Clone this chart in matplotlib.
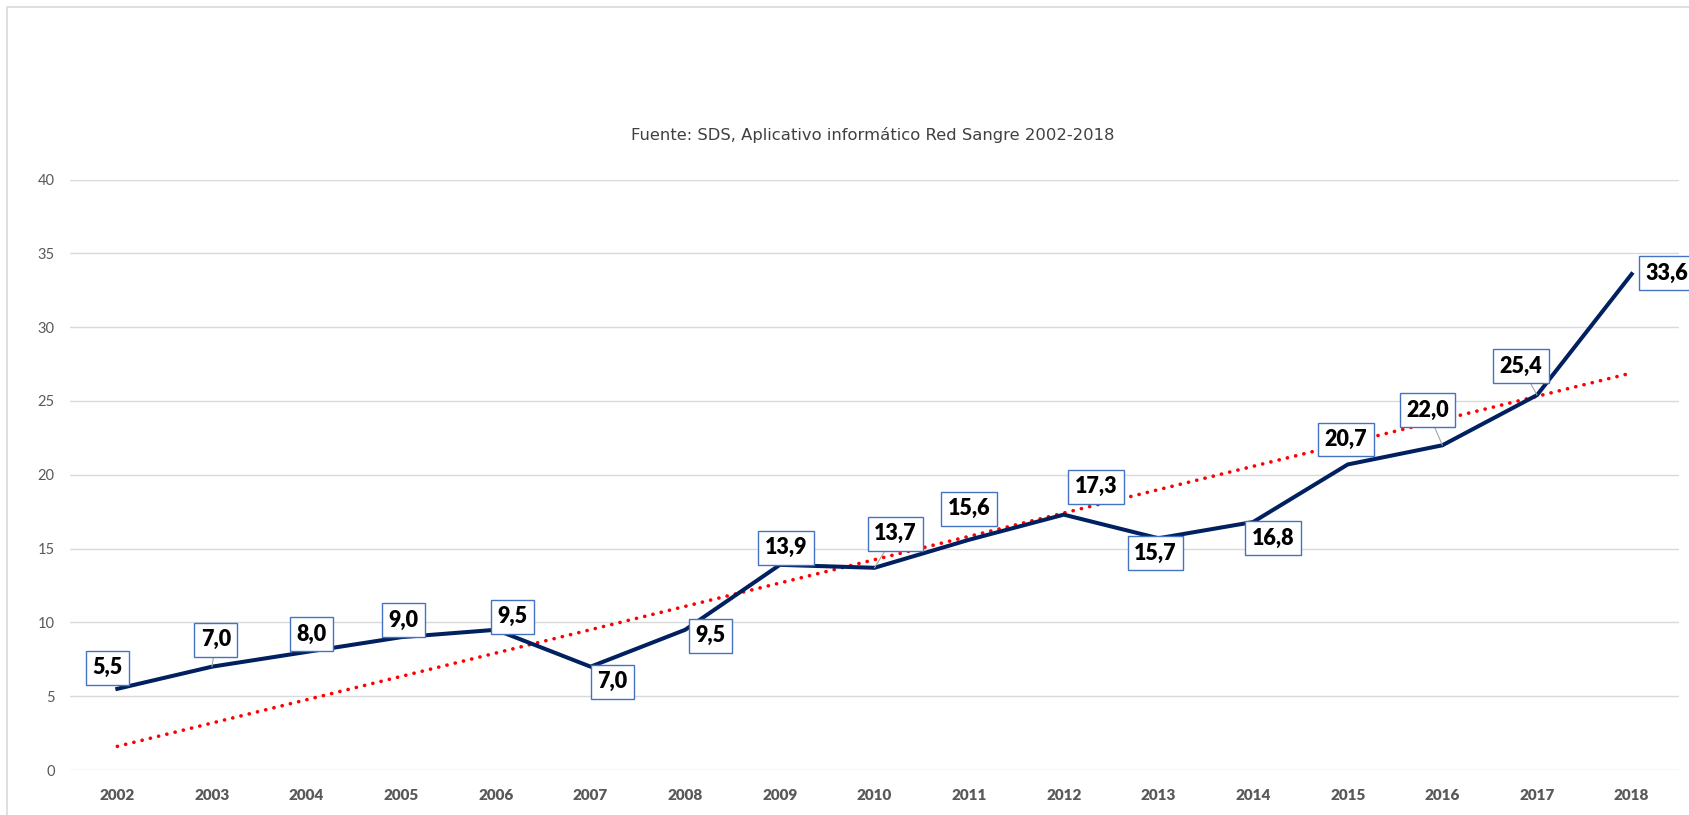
import matplotlib
matplotlib.use("Agg")
import matplotlib.pyplot as plt
from matplotlib.patches import Rectangle

years = ['2002', '2003', '2004', '2005', '2006', '2007', '2008', '2009', '2010',
         '2011', '2012', '2013', '2014', '2015', '2016', '2017', '2018']
valores = [5.5, 7.0, 8.0, 9.0, 9.5, 7.0, 9.5, 13.9, 13.7,
           15.6, 17.3, 15.7, 16.8, 20.7, 22.0, 25.4, 33.6]
# linea de tendencia (extremos)
tendencia = [1.6, 26.9]
titulo = 'Fuente: SDS, Aplicativo informático Red Sangre 2002-2018'

# desplazamiento de cada etiqueta en pixeles (dx, dy)
offsets = [(-10, 21), (4, 27), (5, 18), (2, 17), (17, 13), (22, -15), (25, -6),
           (6, 17), (21, 34), (0, 31), (32, 28), (-3, -15), (20, -16),
           (-2, 25), (-15, 35), (-16, 29), (35, 1)]
guias = [False, True, False, False, False, False, False, False, True,
         False, False, False, False, False, True, True, False]

fig = plt.figure(figsize=(16.9, 8.15), dpi=100)
ax = fig.add_axes([70/1690, 1-770/815, 1609/1690, 590.4/815])

x = list(range(len(years)))
ax.plot([x[0], x[-1]], tendencia, color='#ff0000', lw=2.6,
        dashes=(0.05, 2.3), dash_capstyle='round', zorder=2)
ax.plot(x, valores, color='#002060', lw=2.9, solid_joinstyle='miter', zorder=3)

for i, v in enumerate(valores):
    lbl = ('%.1f' % v).replace('.', ',')
    dx, dy = offsets[i]
    ap = None
    if guias[i]:
        ap = dict(arrowstyle='-', color='#a6a6a6', lw=0.8, shrinkA=0, shrinkB=0)
    ax.annotate(lbl, (i, v), xytext=(dx, dy), textcoords='offset pixels',
                ha='center', va='center', fontsize=15.5, fontweight='heavy',
                family='Lato', color='black', arrowprops=ap, zorder=5,
                annotation_clip=False,
                bbox=dict(boxstyle='square,pad=0.3', fc='white', ec='#4472c4', lw=1))

ax.set_xlim(-0.5, len(years) - 0.5)
ax.set_ylim(0, 40)
ax.set_yticks(range(0, 41, 5))
ax.set_xticks(x)
ax.set_xticklabels(years, fontsize=11, fontweight='heavy', family='Lato', color='#595959')
for t in ax.get_yticklabels():
    t.set_fontsize(10.5)
    t.set_color('#595959')
    t.set_family('Lato')
ax.tick_params(axis='y', length=0, pad=11)
ax.tick_params(axis='x', length=0, pad=14)
ax.grid(axis='y', color='#d9d9d9', lw=1)
ax.set_axisbelow(True)
for s in ax.spines.values():
    s.set_visible(False)

fig.text(873/1690, 1-135/815, titulo, ha='center', va='center', fontsize=11.8,
         color='#404040', family='DejaVu Sans')

fig.patches.append(Rectangle((7.5/1690, -0.1), 1.2, 1-7.5/815+0.1,
                             transform=fig.transFigure, fill=False,
                             ec='#d9d9d9', lw=1.2))

fig.savefig('out.png', dpi=100)
